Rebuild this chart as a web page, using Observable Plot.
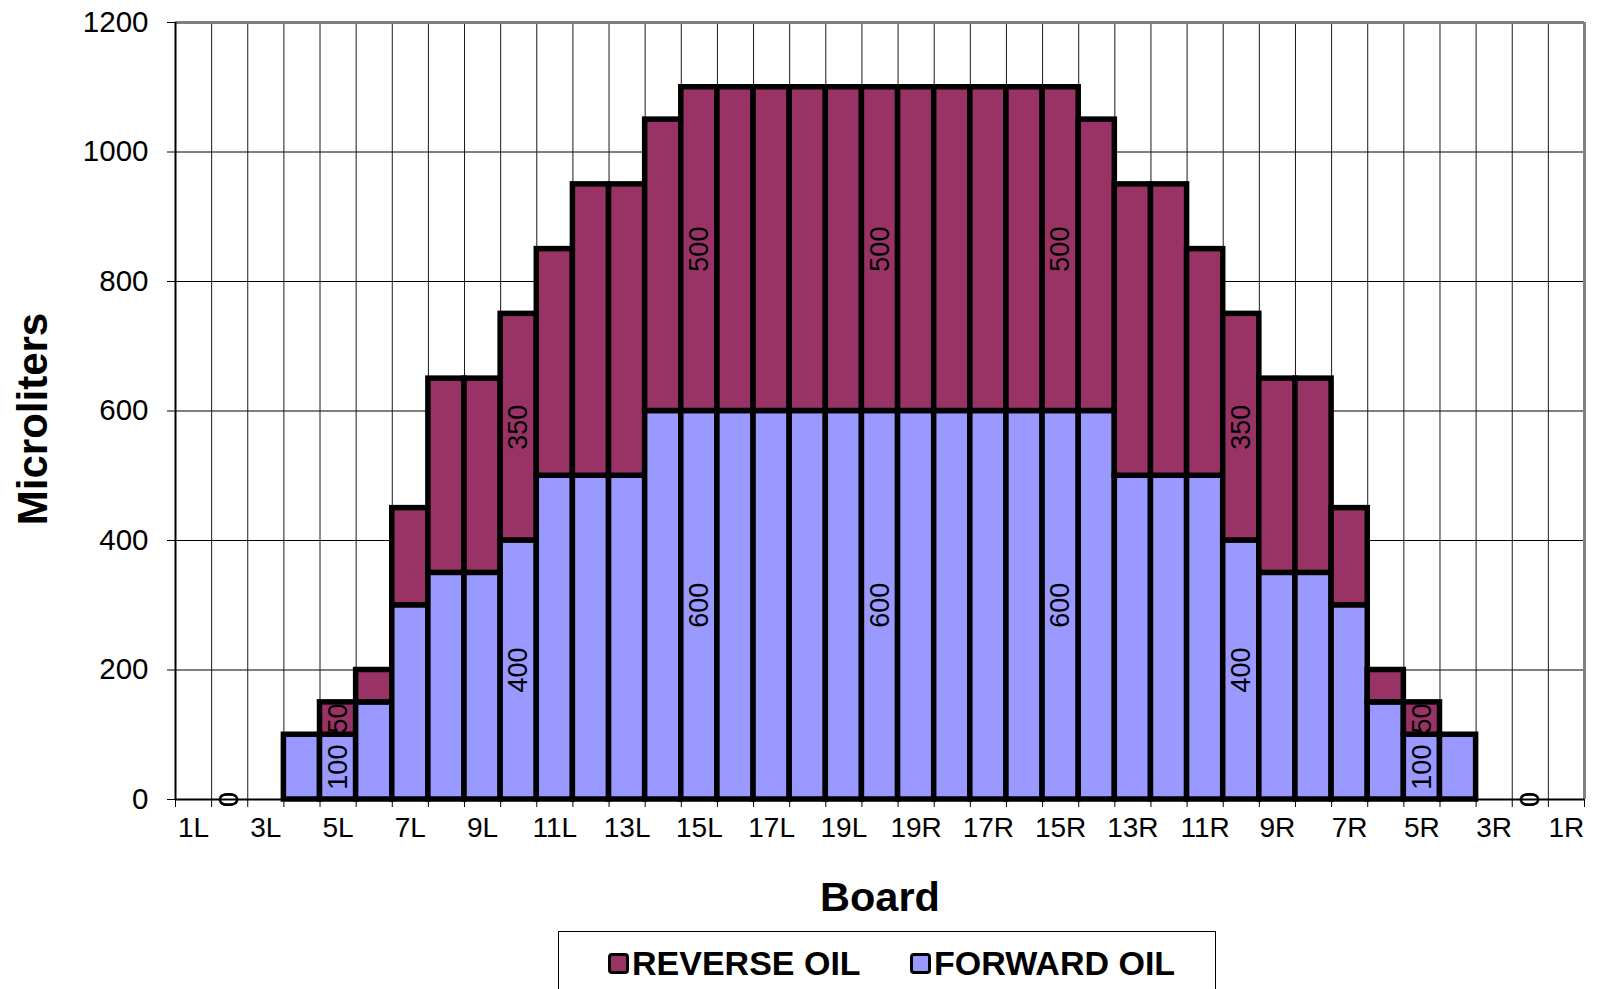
<!DOCTYPE html>
<html><head><meta charset="utf-8">
<script src="https://cdn.jsdelivr.net/npm/d3@7"></script>
<script src="https://cdn.jsdelivr.net/npm/@observablehq/plot@0.6"></script>
<style>
body{margin:0;background:#fff;font-family:"Liberation Sans",Arial,sans-serif;overflow:hidden;}
#chart{position:absolute;left:0;top:0;}
#legend{position:absolute;left:558px;top:931px;width:658px;height:80px;border:1.5px solid #000;box-sizing:border-box;background:#fff;}
.item{position:absolute;top:14px;display:flex;align-items:center;font-weight:bold;font-size:34px;line-height:1;color:#000;white-space:nowrap;}
.sw{width:15px;height:15px;border:3.5px solid #000;border-radius:4px;margin-right:3px;}
</style></head><body>
<div id="chart"></div>
<div id="legend"></div>
<script>
// Categories (boards, left to right across the lane)
const boards = ["1L","2L","3L","4L","5L","6L","7L","8L","9L","10L","11L","12L","13L","14L","15L","16L","17L","18L","19L","20",
  "19R","18R","17R","16R","15R","14R","13R","12R","11R","10R","9R","8R","7R","6R","5R","4R","3R","2R","1R"];
// Series values (microliters); null = no bar
const forwardOil = [null,0,null,100,100,150,300,350,350,400,500,500,500,600,600,600,600,600,600,600,
  600,600,600,600,600,600,500,500,500,400,350,350,300,150,100,100,null,0,null];
const reverseOil = [null,0,null,0,50,50,150,300,300,350,350,450,450,450,500,500,500,500,500,500,
  500,500,500,500,500,450,450,450,350,350,300,300,150,50,50,0,null,0,null];
// Boards that carry data labels
const labeledBoards = ["2L","5L","10L","15L","20","15R","10R","5R","2R"];
// Tick labels shown on x axis
const xTickLabels = ["1L","3L","5L","7L","9L","11L","13L","15L","17L","19L","19R","17R","15R","13R","11R","9R","7R","5R","3R","1R"];
const yTicks = [0,200,400,600,800,1000,1200];
const seriesNames = ["REVERSE OIL","FORWARD OIL"];
const seriesColors = {"REVERSE OIL":"#993366","FORWARD OIL":"#9999FF"};

// Build stacked segments (forward at bottom, reverse on top)
const segments = [];
boards.forEach((b,i)=>{
  const f = forwardOil[i], r = reverseOil[i];
  if (f != null && f > 0) segments.push({i, series:"FORWARD OIL", y1:0, y2:f});
  if (r != null && r > 0) segments.push({i, series:"REVERSE OIL", y1:f||0, y2:(f||0)+r});
});
const labels = [];
labeledBoards.forEach(b=>{
  const i = boards.indexOf(b);
  const f = forwardOil[i], r = reverseOil[i];
  labels.push({x:i+0.5, y:f/2, text:String(f)});
  labels.push({x:i+0.5, y:f + r/2, text:String(r)});
});
const xTickPos = xTickLabels.map(l => boards.indexOf(l) + 0.5);
const n = boards.length;

const chart = Plot.plot({
  width: 1598,
  height: 931,
  marginLeft: 175,
  marginRight: 14,
  marginTop: 22,
  marginBottom: 132,
  style: {fontFamily: "'Liberation Sans', Arial, sans-serif", fontSize: "28px", color: "#000", background: "#fff"},
  x: {type: "linear", domain: [0, n]},
  y: {domain: [0, 1200]},
  color: {domain: seriesNames, range: seriesNames.map(s => seriesColors[s])},
  marks: [
    Plot.ruleY(yTicks.filter(t => t > 0 && t < 1200), {stroke: "#000", strokeWidth: 1}),
    Plot.ruleX(d3.range(1, n), {stroke: "#1a1a1a", strokeWidth: 1}),
    Plot.ruleY([1200], {stroke: "#808080", strokeWidth: 3}),
    Plot.ruleX([n], {stroke: "#808080", strokeWidth: 3}),
    Plot.rectY(segments, {x1: "i", x2: d => d.i + 1, y1: "y1", y2: "y2", fill: "series", stroke: "#000", strokeWidth: 5.5}),
    Plot.ruleX([0], {stroke: "#000", strokeWidth: 2}),
    Plot.ruleY([0], {stroke: "#000", strokeWidth: 2}),
    Plot.axisY(yTicks, {tickSize: 8, tickPadding: 19, fontSize: 29.5, label: null, stroke: "#000", tickFormat: d => String(d)}),
    Plot.axisX(d3.range(0, n + 1), {tickSize: 8, tickFormat: () => "", label: null, stroke: "#000"}),
    Plot.axisX(xTickPos, {tickSize: 0, tickPadding: 18, fontSize: 28, label: null, tickFormat: p => boards[Math.floor(p)]}),
    Plot.text(labels, {x: "x", y: "y", text: "text", rotate: -90, fontSize: 27, fill: "#000"}),
    Plot.text(["Microliters"], {frameAnchor: "left", dx: -142, dy: 8, rotate: -90, text: d => d, fontSize: 42, fontWeight: "bold", textAnchor: "middle", lineAnchor: "middle", fill: "#000"}),
    Plot.text(["Board"], {frameAnchor: "bottom", dy: 98, text: d => d, fontSize: 41.5, fontWeight: "bold", textAnchor: "middle", lineAnchor: "middle", fill: "#000"})
  ]
});
document.getElementById("chart").appendChild(chart);

// Legend
const legend = document.getElementById("legend");
const itemLeft = [49, 351];
seriesNames.forEach((s, k) => {
  const it = document.createElement("div");
  it.className = "item";
  it.style.left = itemLeft[k] + "px";
  const sw = document.createElement("span");
  sw.className = "sw";
  sw.style.background = seriesColors[s];
  const tx = document.createElement("span");
  tx.textContent = s;
  it.appendChild(sw); it.appendChild(tx);
  legend.appendChild(it);
});
</script>
</body></html>
